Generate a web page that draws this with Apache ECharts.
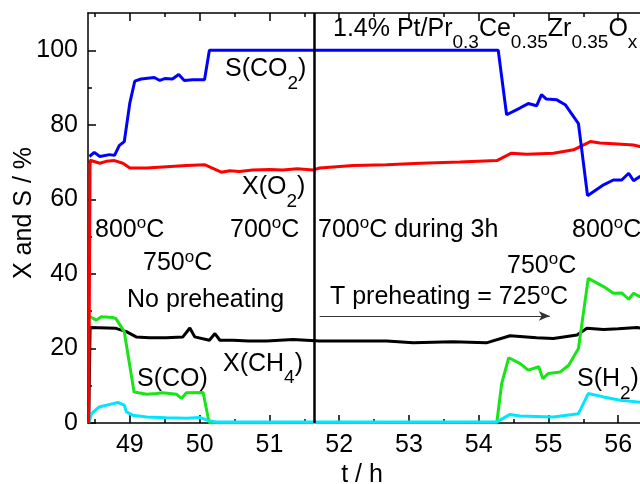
<!DOCTYPE html>
<html>
<head>
<meta charset="utf-8">
<script src="https://cdn.jsdelivr.net/npm/echarts@6/dist/echarts.min.js"></script>
<style>html,body{margin:0;padding:0;background:#fff}#c{width:640px;height:484px}</style>
</head>
<body>
<div id="c"></div>
<script>
// ---- data ----
const xMajorTicks = [49, 50, 51, 52, 53, 54, 55, 56];
const xMinorTicks = [48.5, 49.5, 50.5, 51.5, 52.5, 53.5, 54.5, 55.5, 56.5];
const yMajorTicks = [0, 20, 40, 60, 80, 100];
const yMinorTicks = [10, 30, 50, 70, 90];

const sco2T = [48.42,48.49,48.57,48.71,48.78,48.85,48.92,49.00,49.07,49.16,49.35,49.43,49.50,49.61,49.70,49.78,49.90,50.07,50.14,54.28,54.40,54.59,54.71,54.83,54.90,54.97,55.12,55.24,55.43,55.56,55.79,55.93,56.05,56.15,56.22,56.31,56.40];
const sco2V = [71.5,72.6,71.5,72.0,71.8,74.5,75.5,85.9,91.7,92.3,92.7,91.9,92.4,92.3,93.5,91.9,92.1,92.1,100,100,82.7,84.5,85.7,85.1,88.1,86.9,86.7,85.4,80.3,61.0,63.9,65.2,65.2,67.0,65.0,66.1,66.5];

const xo2T = [48.41,48.43,48.45,48.57,48.66,48.78,48.90,49.00,49.24,49.47,49.81,50.07,50.31,50.43,50.57,50.76,51.00,51.19,51.40,51.63,51.72,52.20,52.68,53.16,53.73,54.26,54.47,54.69,55.07,55.36,55.60,55.74,55.93,56.22,56.31,56.40];
const xo2V = [0,70.5,70.4,69.7,70.2,70.4,69.7,68.4,68.4,68.7,69.1,69.3,67.3,67.7,67.5,67.9,68.0,67.9,68.2,67.9,68.4,69.1,69.3,69.7,70.0,70.4,72.4,72.1,72.4,73.3,75.5,75.1,74.9,74.6,74.2,74.0];

const xch4T = [48.41,48.43,48.80,48.95,49.09,49.28,49.52,49.76,49.86,49.93,50.14,50.22,50.29,50.48,50.70,50.96,51.34,51.72,52.20,52.68,53.06,53.63,54.11,54.45,54.83,55.07,55.41,55.55,55.79,56.00,56.27,56.40];
const xch4V = [0,25.6,25.4,24.5,23.1,22.9,22.9,23.1,25.5,23.1,22.2,24.0,22.2,22.2,22.0,22.0,22.4,22.0,22.0,22.0,21.5,21.8,21.5,23.4,22.9,22.7,23.6,25.4,25.1,25.3,25.6,25.3];

const scoT = [48.41,48.52,48.59,48.76,48.80,48.92,49.06,49.24,49.38,49.47,49.67,49.74,49.81,50.05,50.12,50.14,54.26,54.33,54.43,54.59,54.71,54.86,54.92,55.00,55.17,55.29,55.43,55.57,55.79,55.93,56.05,56.15,56.22,56.31,56.40];
const scoV = [28.7,27.6,28.5,28.3,28.0,24.5,8.3,7.7,7.9,8.1,7.7,6.6,8.1,8.2,1.6,0.1,0.2,10.6,17.5,16.0,14.2,15.1,11.9,13.3,13.7,15.5,20.0,38.8,36.6,34.8,34.9,33.2,34.8,33.9,33.5];

const sh2T = [48.41,48.45,48.56,48.76,48.83,48.92,48.95,49.04,49.24,49.52,49.81,50.00,50.12,50.24,54.26,54.45,54.59,55.07,55.43,55.57,55.79,56.03,56.31,56.40];
const sh2V = [0,2.5,4.3,5.2,5.5,4.8,3.0,2.1,1.6,1.4,1.3,1.5,0.7,0.3,0.3,2.3,1.9,1.6,2.5,7.9,7.0,6.1,5.6,5.5];

const dividerT = 51.65;          // vertical separator (h)
const arrowFrom = [51.72, 28.7]; // T preheating arrow
const arrowTo = [55.02, 28.7];

// ---- chart ----
const FONT = 'Liberation Sans, Arial, sans-serif';
const pairs = (t, v) => t.map((x, i) => [x, v[i]]);
const rich = {
  n: {fontSize: 25, lineHeight: 30, fontFamily: FONT, color: '#000'},
  s: {fontSize: 19, lineHeight: 30, fontFamily: FONT, color: '#000', padding: [28, 0, 0, 0]},
  o: {fontSize: 17, lineHeight: 30, fontFamily: FONT, color: '#000', padding: [0, 0, 13, 0]}
};
function label(text, x, y, extra) {
  return Object.assign({
    type: 'text', x: x, y: y, z: 100,
    style: {text: text, rich: rich, fontSize: 25, fontFamily: FONT, fill: '#000',
            align: 'left', verticalAlign: 'middle'}
  }, extra || {});
}

const commonX = {type: 'value', min: 48.4, max: 57, splitLine: {show: false}};
const axLine = {show: true, lineStyle: {color: '#000', width: 1.5}};
const lbl = {fontSize: 25, color: '#000', fontFamily: FONT};

const chart = echarts.init(document.getElementById('c'), null, {renderer: 'canvas'});
chart.setOption({
  animation: false,
  backgroundColor: '#fff',
  grid: {left: 88, top: 13, width: 600, height: 410, containLabel: false, outerBoundsMode: 'none'},
  xAxis: [
    Object.assign({}, commonX, {position: 'bottom', axisLine: axLine,
      axisTick: {show: true, inside: true, length: 8, customValues: xMajorTicks, lineStyle: {color: '#000', width: 1.5}},
      axisLabel: Object.assign({show: true, margin: 10, customValues: xMajorTicks}, lbl)}),
    Object.assign({}, commonX, {position: 'bottom', axisLine: {show: false},
      axisTick: {show: true, inside: true, length: 4, customValues: xMinorTicks, lineStyle: {color: '#000', width: 1.5}},
      axisLabel: {show: false}}),
    Object.assign({}, commonX, {position: 'top', axisLine: axLine,
      axisTick: {show: true, inside: true, length: 8, customValues: xMajorTicks, lineStyle: {color: '#000', width: 1.5}},
      axisLabel: {show: false}}),
    Object.assign({}, commonX, {position: 'top', axisLine: {show: false},
      axisTick: {show: true, inside: true, length: 4, customValues: xMinorTicks, lineStyle: {color: '#000', width: 1.5}},
      axisLabel: {show: false}})
  ],
  yAxis: [
    {type: 'value', min: 0, max: 110, position: 'left', splitLine: {show: false}, axisLine: axLine,
     axisTick: {show: true, inside: true, length: 8, customValues: yMajorTicks, lineStyle: {color: '#000', width: 1.5}},
     axisLabel: Object.assign({show: true, margin: 10, customValues: yMajorTicks}, lbl)},
    {type: 'value', min: 0, max: 110, position: 'left', splitLine: {show: false}, axisLine: {show: false},
     axisTick: {show: true, inside: true, length: 4, customValues: yMinorTicks, lineStyle: {color: '#000', width: 1.5}},
     axisLabel: {show: false}}
  ],
  series: [
    {name: 'X(CH4)', type: 'line', data: pairs(xch4T, xch4V), showSymbol: false, symbol: 'none',
     lineStyle: {color: '#000', width: 3}, itemStyle: {color: '#000'},
     markLine: {silent: true, symbol: ['none', 'none'], label: {show: false},
       lineStyle: {color: '#000', width: 2.5, type: 'solid'},
       data: [{xAxis: dividerT}]}},
    {name: 'S(CO)', type: 'line', data: pairs(scoT, scoV), showSymbol: false, symbol: 'none',
     lineStyle: {color: '#18e418', width: 3}, itemStyle: {color: '#18e418'},
     markLine: {silent: true, symbol: ['none', 'arrow'], symbolSize: [7, 11], label: {show: false},
       lineStyle: {color: '#333', width: 1, type: 'solid'},
       data: [[{coord: arrowFrom}, {coord: arrowTo}]]}},
    {name: 'S(H2)', type: 'line', data: pairs(sh2T, sh2V), showSymbol: false, symbol: 'none',
     lineStyle: {color: '#00e6ff', width: 3}, itemStyle: {color: '#00e6ff'}},
    {name: 'X(O2)', type: 'line', data: pairs(xo2T, xo2V), showSymbol: false, symbol: 'none',
     lineStyle: {color: '#ff0000', width: 3}, itemStyle: {color: '#ff0000'}},
    {name: 'S(CO2)', type: 'line', data: pairs(sco2T, sco2V), showSymbol: false, symbol: 'none',
     lineStyle: {color: '#0000ff', width: 3}, itemStyle: {color: '#0000ff'}}
  ],
  graphic: [
    label('{n|1.4% Pt/Pr}{s|0.3}{n|Ce}{s|0.35}{n|Zr}{s|0.35}{n|O}{s|x}', 333, 29),
    label('{n|S(CO}{s|2}{n|)}', 225, 69.5),
    label('{n|X(O}{s|2}{n|)}', 242, 187.5),
    label('{n|800}{o|o}{n|C}', 95, 230),
    label('{n|700}{o|o}{n|C}', 230, 230),
    label('{n|700}{o|o}{n|C during 3h}', 318, 230),
    label('{n|800}{o|o}{n|C}', 572, 230),
    label('{n|750}{o|o}{n|C}', 143, 263.5),
    label('{n|No preheating}', 127, 300),
    label('{n|750}{o|o}{n|C}', 507, 266),
    label('{n|T preheating = 725}{o|o}{n|C}', 330, 297),
    label('{n|X(CH}{s|4}{n|)}', 223, 364),
    label('{n|S(CO)}', 137, 379.5),
    label('{n|S(H}{s|2}{n|)}', 577, 379.5),
    {type: 'text', x: 362, y: 475, z: 100,
     style: {text: 't / h', fontSize: 25, fontFamily: FONT, fill: '#000', align: 'center', verticalAlign: 'middle'}},
    {type: 'text', x: 24, y: 213, z: 100, rotation: Math.PI / 2,
     style: {text: 'X and S / %', fontSize: 25, fontFamily: FONT, fill: '#000', align: 'center', verticalAlign: 'middle'}}
  ]
});
</script>
</body>
</html>
